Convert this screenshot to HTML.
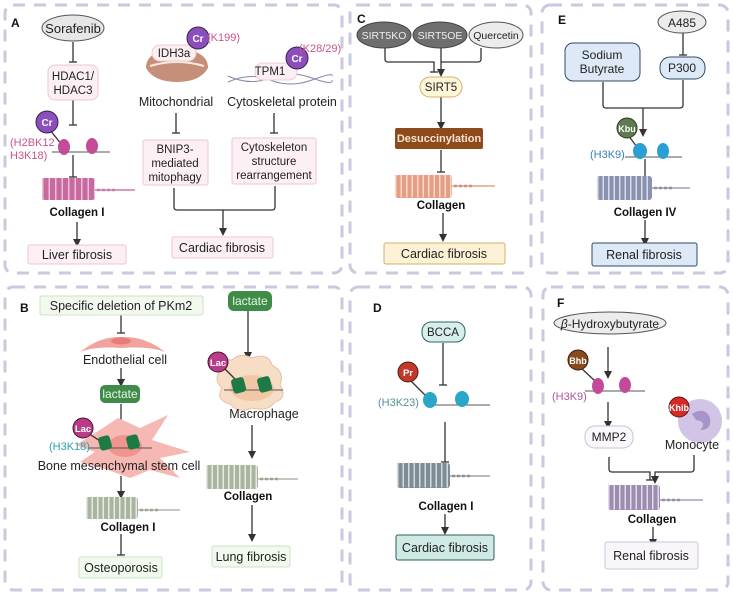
<!DOCTYPE html>
<html><head><meta charset="utf-8"><style>
body{margin:0;background:#fff;}
svg{display:block;font-family:"Liberation Sans",Arial,sans-serif;}
</style></head><body>
<svg width="733" height="594" viewBox="0 0 733 594" xmlns="http://www.w3.org/2000/svg">
<defs>
<marker id="ar" markerWidth="8" markerHeight="8" refX="4" refY="4" orient="auto" markerUnits="userSpaceOnUse"><path d="M0,0 L8,4 L0,8 z" fill="#333"/></marker>
</defs>
<g fill="none" stroke="#c9c9df" stroke-width="3" stroke-dasharray="12 9">
<rect x="5" y="5" width="337" height="268" rx="8"/>
<rect x="5" y="287" width="337" height="303" rx="8"/>
<rect x="350" y="5" width="181" height="268" rx="8"/>
<rect x="542" y="5" width="186" height="268" rx="8"/>
<rect x="350" y="287" width="181" height="303" rx="8"/>
<rect x="543" y="287" width="185" height="303" rx="8"/>
</g>
<g font-weight="bold" font-size="12" fill="#111">
<text x="11" y="27">A</text><text x="20" y="312">B</text><text x="357" y="23">C</text>
<text x="558" y="24">E</text><text x="373" y="312">D</text><text x="557" y="307">F</text>
</g>
<g stroke="#333" stroke-width="1.3" fill="none">
<line x1="73" y1="42" x2="73" y2="62"/><line x1="69" y1="62" x2="77" y2="62"/>
<line x1="73" y1="100" x2="73" y2="125"/><line x1="69" y1="125" x2="77" y2="125"/>
<line x1="73" y1="155" x2="73" y2="177"/><line x1="69" y1="177" x2="77" y2="177"/>
<line x1="77" y1="222" x2="77" y2="243" marker-end="url(#ar)"/>
<line x1="176" y1="113" x2="176" y2="133"/><line x1="172" y1="133" x2="180" y2="133"/>
<line x1="274" y1="113" x2="274" y2="133"/><line x1="270" y1="133" x2="278" y2="133"/>
<path d="M174,188 V207 Q174,210 177,210 H272 Q275,210 275,207 V186"/>
<line x1="223" y1="210" x2="223" y2="232" marker-end="url(#ar)"/>
<line x1="121" y1="314" x2="121" y2="333"/><line x1="117" y1="333" x2="125" y2="333"/>
<line x1="121" y1="368" x2="121" y2="383" marker-end="url(#ar)"/>
<line x1="121" y1="404" x2="121" y2="428" marker-end="url(#ar)"/>
<line x1="121" y1="476" x2="121" y2="495" marker-end="url(#ar)"/>
<line x1="121" y1="534" x2="121" y2="555"/><line x1="117" y1="555" x2="125" y2="555"/>
<line x1="248" y1="311" x2="248" y2="356" marker-end="url(#ar)"/>
<line x1="252" y1="425" x2="252" y2="455" marker-end="url(#ar)"/>
<line x1="252" y1="505" x2="252" y2="538" marker-end="url(#ar)"/>
<path d="M385,48 V59 Q385,62 388,62 H434 V72"/><line x1="430" y1="72" x2="438" y2="72"/>
<line x1="441" y1="48" x2="441" y2="73" marker-end="url(#ar)"/>
<path d="M481,48 V59 Q481,62 478,62 H441"/>
<line x1="441" y1="97" x2="441" y2="126" marker-end="url(#ar)"/>
<line x1="441" y1="150" x2="441" y2="172"/><line x1="437" y1="172" x2="445" y2="172"/>
<line x1="443" y1="213" x2="443" y2="238" marker-end="url(#ar)"/>
<line x1="683" y1="33" x2="683" y2="55"/><line x1="679" y1="55" x2="687" y2="55"/>
<path d="M603,82 V105 Q603,108 606,108 H680 Q683,108 683,105 V80"/>
<line x1="643" y1="108" x2="643" y2="133" marker-end="url(#ar)"/>
<line x1="645" y1="159" x2="645" y2="178"/><line x1="641" y1="178" x2="649" y2="178"/>
<line x1="645" y1="220" x2="645" y2="242" marker-end="url(#ar)"/>
<line x1="443" y1="343" x2="443" y2="385"/><line x1="439" y1="385" x2="447" y2="385"/>
<line x1="445" y1="422" x2="445" y2="462"/><line x1="441" y1="462" x2="449" y2="462"/>
<line x1="445" y1="514" x2="445" y2="531" marker-end="url(#ar)"/>
<line x1="608" y1="347" x2="608" y2="375" marker-end="url(#ar)"/>
<line x1="608" y1="402" x2="608" y2="425" marker-end="url(#ar)"/>
<path d="M609,457 V469 Q609,472 612,472 H650 V480"/><line x1="646" y1="480" x2="654" y2="480"/>
<path d="M694,455 V469 Q694,472 691,472 H655 V480" marker-end="url(#ar)"/>
<line x1="653" y1="527" x2="653" y2="543" marker-end="url(#ar)"/>
</g>

<ellipse cx="73" cy="28" rx="31" ry="13" fill="#e6e6e6" stroke="#555"/>
<text x="73" y="33" font-size="13" text-anchor="middle" fill="#222">Sorafenib</text>
<rect x="48" y="65" width="50" height="35" rx="7" fill="#fdf0f5" stroke="#f0c4d4"/>
<text x="73" y="80" font-size="11.5" text-anchor="middle" fill="#222">HDAC1/</text>
<text x="73" y="94" font-size="11.5" text-anchor="middle" fill="#222">HDAC3</text>
<line x1="50" y1="130" x2="62" y2="145" stroke="#333" stroke-width="1.3"/>
<circle cx="47" cy="122" r="11" fill="#8b4fbd" stroke="#3a2050"/>
<text x="47" y="126" font-size="10" text-anchor="middle" fill="#fff" font-weight="bold">Cr</text>
<line x1="52" y1="152" x2="110" y2="152" stroke="#555"/>
<ellipse cx="64" cy="147" rx="6" ry="8" fill="#c44b95"/><ellipse cx="92" cy="146" rx="6" ry="8" fill="#c44b95"/>
<text x="10" y="146" font-size="11" fill="#c8558c">(H2BK12</text>
<text x="10" y="159" font-size="11" fill="#c8558c">H3K18)</text>
<rect x="42" y="178" width="53" height="22" rx="3" fill="#c66aa0"/>
<line x1="42" y1="189" x2="95" y2="189" stroke="#f0c0da" stroke-width="22" stroke-dasharray="1.5 5"/>
<line x1="95" y1="190" x2="135" y2="190" stroke="#d07aa8" stroke-width="1.5"/>
<line x1="97" y1="190" x2="115" y2="190" stroke="#c080a8" stroke-width="2.5" stroke-dasharray="3 2"/>
<text x="77" y="216" font-size="11.5" font-weight="bold" text-anchor="middle" fill="#111">Collagen I</text>
<rect x="28" y="245" width="98" height="19" rx="2" fill="#fdf0f5" stroke="#f0c4d4"/>
<text x="77" y="259" font-size="12.5" text-anchor="middle" fill="#222">Liver fibrosis</text>

<path d="M146,68 Q146,50 177,49 Q208,50 208,68 Q200,82 177,82 Q154,82 146,68z" fill="#c58f7a"/>
<path d="M150,66 Q177,58 204,66" stroke="#fbe6dc" stroke-width="2" fill="none"/>
<rect x="152" y="45" width="44" height="16" rx="8" fill="#fbeff3" stroke="#ecc"/>
<text x="174" y="57" font-size="11.5" text-anchor="middle" fill="#222">IDH3a</text>
<circle cx="198" cy="38" r="11" fill="#8b4fbd" stroke="#3a2050"/>
<text x="198" y="42" font-size="10" text-anchor="middle" fill="#fff" font-weight="bold">Cr</text>
<text x="207" y="41" font-size="11" fill="#c8558c">(K199)</text>
<text x="176" y="106" font-size="12.5" text-anchor="middle" fill="#222">Mitochondrial</text>
<rect x="143" y="140" width="65" height="45" rx="2" fill="#fdf0f5" stroke="#f0c4d4"/>
<text x="175" y="153" font-size="11.5" text-anchor="middle" fill="#222">BNIP3-</text>
<text x="175" y="167" font-size="11.5" text-anchor="middle" fill="#222">mediated</text>
<text x="175" y="181" font-size="11.5" text-anchor="middle" fill="#222">mitophagy</text>

<path d="M228,76 Q250,86 270,78 T312,78 T332,80 M228,82 Q250,72 270,80 T312,80 T332,76" stroke="#8888aa" fill="none"/>
<rect x="255" y="63" width="42" height="17" rx="8" fill="#fbeff3" stroke="#ecc"/>
<text x="270" y="75" font-size="11.5" text-anchor="middle" fill="#222">TPM1</text>
<circle cx="297" cy="58" r="11" fill="#8b4fbd" stroke="#3a2050"/>
<text x="297" y="62" font-size="10" text-anchor="middle" fill="#fff" font-weight="bold">Cr</text>
<text x="299" y="52" font-size="11" fill="#c8558c">(K28/29)</text>
<text x="282" y="106" font-size="12.5" text-anchor="middle" fill="#222">Cytoskeletal protein</text>
<rect x="232" y="138" width="84" height="46" rx="2" fill="#fdf0f5" stroke="#f0c4d4"/>
<text x="274" y="151" font-size="11.5" text-anchor="middle" fill="#222">Cytoskeleton</text>
<text x="274" y="165" font-size="11.5" text-anchor="middle" fill="#222">structure</text>
<text x="274" y="179" font-size="11.5" text-anchor="middle" fill="#222">rearrangement</text>
<rect x="172" y="237" width="101" height="21" rx="2" fill="#fdf0f5" stroke="#f0c4d4"/>
<text x="222" y="252" font-size="12.5" text-anchor="middle" fill="#222">Cardiac fibrosis</text>

<rect x="40" y="296" width="163" height="19" rx="2" fill="#f2f9ee" stroke="#cfe3c4"/>
<text x="121" y="310" font-size="12.5" text-anchor="middle" fill="#222">Specific deletion of PKm2</text>
<path d="M80,352 Q100,336 121,337 Q145,336 165,352 Q150,346 121,348 Q95,346 80,352z" fill="#f3a39e"/>
<ellipse cx="121" cy="341" rx="10" ry="3.5" fill="#e57d79"/>
<text x="125" y="364" font-size="12.5" text-anchor="middle" fill="#222">Endothelial cell</text>
<rect x="100" y="385" width="40" height="18" rx="5" fill="#3f8c48"/>
<text x="120" y="398" font-size="12" text-anchor="middle" fill="#e9f6e9">lactate</text>
<path d="M76,445 L100,430 L118,418 L140,428 L168,415 L152,440 L190,452 L160,458 L180,478 L150,470 L130,478 L108,470 L80,462 L95,452z" fill="#f6b8b2"/>
<ellipse cx="125" cy="446" rx="17" ry="11" fill="#f0958e"/>
<line x1="88" y1="448" x2="152" y2="448" stroke="#555"/>
<line x1="88" y1="433" x2="103" y2="443" stroke="#333" stroke-width="1.3"/>
<rect x="99" y="436" width="12" height="14" rx="3" fill="#1e7a44" transform="rotate(-15 105 443)"/>
<rect x="127" y="435" width="12" height="14" rx="3" fill="#1e7a44" transform="rotate(-15 133 442)"/>
<circle cx="83" cy="428" r="10" fill="#b83c87" stroke="#4a1030"/>
<text x="83" y="432" font-size="9.5" text-anchor="middle" fill="#fff" font-weight="bold">Lac</text>
<text x="49" y="450" font-size="11" fill="#2aa0b0">(H3K18)</text>
<text x="119" y="470" font-size="12.5" text-anchor="middle" fill="#222">Bone mesenchymal stem cell</text>
<rect x="86" y="497" width="52" height="22" rx="3" fill="#a9b4a1"/>
<line x1="86" y1="508" x2="138" y2="508" stroke="#e6ece2" stroke-width="22" stroke-dasharray="1.5 4"/>
<line x1="138" y1="510" x2="180" y2="510" stroke="#b0b8aa" stroke-width="1.5"/>
<line x1="140" y1="510" x2="158" y2="510" stroke="#9ba496" stroke-width="2.5" stroke-dasharray="3 2"/>
<text x="128" y="531" font-size="11.5" font-weight="bold" text-anchor="middle" fill="#111">Collagen I</text>
<rect x="79" y="557" width="83" height="21" rx="2" fill="#f2f9ee" stroke="#cfe3c4"/>
<text x="121" y="572" font-size="12.5" text-anchor="middle" fill="#222">Osteoporosis</text>

<rect x="228" y="291" width="44" height="20" rx="6" fill="#3f8c48"/>
<text x="250" y="305" font-size="12" text-anchor="middle" fill="#e9f6e9">lactate</text>
<path d="M222,370 Q218,358 232,360 Q240,352 252,358 Q268,352 272,365 Q285,372 280,385 Q288,398 275,402 Q268,412 252,408 Q238,414 230,404 Q215,400 222,388 Q212,378 222,370z" fill="#f7dcc6" stroke="#e8c0a6"/>
<ellipse cx="252" cy="388" rx="22" ry="13" fill="#f2c7a6"/>
<line x1="224" y1="390" x2="283" y2="390" stroke="#555"/>
<line x1="224" y1="368" x2="236" y2="380" stroke="#333" stroke-width="1.3"/>
<rect x="232" y="378" width="13" height="15" rx="3" fill="#1e7a44" transform="rotate(-15 238 385)"/>
<rect x="258" y="377" width="13" height="15" rx="3" fill="#1e7a44" transform="rotate(-15 264 384)"/>
<circle cx="218" cy="362" r="10" fill="#b83c87" stroke="#4a1030"/>
<text x="218" y="366" font-size="9.5" text-anchor="middle" fill="#fff" font-weight="bold">Lac</text>
<text x="264" y="418" font-size="12.5" text-anchor="middle" fill="#222">Macrophage</text>
<rect x="206" y="465" width="52" height="24" rx="3" fill="#a9b4a1"/>
<line x1="206" y1="477" x2="258" y2="477" stroke="#e6ece2" stroke-width="24" stroke-dasharray="1.5 4"/>
<line x1="258" y1="479" x2="298" y2="479" stroke="#b0b8aa" stroke-width="1.5"/>
<line x1="260" y1="479" x2="278" y2="479" stroke="#9ba496" stroke-width="2.5" stroke-dasharray="3 2"/>
<text x="248" y="500" font-size="11.5" font-weight="bold" text-anchor="middle" fill="#111">Collagen</text>
<rect x="212" y="546" width="78" height="21" rx="2" fill="#f2f9ee" stroke="#cfe3c4"/>
<text x="251" y="561" font-size="12.5" text-anchor="middle" fill="#222">Lung fibrosis</text>

<ellipse cx="384" cy="35" rx="27" ry="13" fill="#6e6e6e" stroke="#444"/>
<text x="384" y="39" font-size="10.5" text-anchor="middle" fill="#eee">SIRT5KO</text>
<ellipse cx="440" cy="35" rx="27" ry="13" fill="#6e6e6e" stroke="#444"/>
<text x="440" y="39" font-size="10.5" text-anchor="middle" fill="#eee">SIRT5OE</text>
<ellipse cx="496" cy="35" rx="27" ry="13" fill="#ececec" stroke="#555"/>
<text x="496" y="39" font-size="10.5" text-anchor="middle" fill="#222">Quercetin</text>
<rect x="420" y="77" width="42" height="20" rx="10" fill="#fff5d8" stroke="#d4b06a"/>
<text x="441" y="91" font-size="11.5" text-anchor="middle" fill="#222">SIRT5</text>
<rect x="395" y="128" width="88" height="21" rx="2" fill="#8f4a1c"/>
<text x="439" y="142" font-size="11" font-weight="bold" text-anchor="middle" fill="#f6e4d6">Desuccinylation</text>
<rect x="395" y="175" width="57" height="23" rx="3" fill="#e59e86"/>
<line x1="395" y1="186" x2="452" y2="186" stroke="#fad7c8" stroke-width="23" stroke-dasharray="1.5 4"/>
<line x1="452" y1="186" x2="495" y2="186" stroke="#e8a08a" stroke-width="1.5"/>
<line x1="454" y1="186" x2="472" y2="186" stroke="#d98a78" stroke-width="2.5" stroke-dasharray="3 2"/>
<text x="441" y="209" font-size="11.5" font-weight="bold" text-anchor="middle" fill="#111">Collagen</text>
<rect x="384" y="243" width="121" height="21" rx="2" fill="#fdf2d6" stroke="#d4b06a"/>
<text x="444" y="258" font-size="12.5" text-anchor="middle" fill="#222">Cardiac fibrosis</text>

<ellipse cx="682" cy="22" rx="24" ry="11" fill="#ececec" stroke="#555"/>
<text x="682" y="27" font-size="12" text-anchor="middle" fill="#222">A485</text>
<rect x="565" y="43" width="75" height="38" rx="8" fill="#dde9f6" stroke="#2c4a6a"/>
<text x="602" y="59" font-size="12" text-anchor="middle" fill="#222">Sodium</text>
<text x="602" y="73" font-size="12" text-anchor="middle" fill="#222">Butyrate</text>
<rect x="660" y="57" width="45" height="22" rx="10" fill="#dde9f6" stroke="#2c4a6a"/>
<text x="682" y="72" font-size="12" text-anchor="middle" fill="#222">P300</text>
<line x1="628" y1="135" x2="637" y2="147" stroke="#333" stroke-width="1.3"/>
<circle cx="627" cy="128" r="10" fill="#5d7a50" stroke="#2a3a24"/>
<text x="627" y="132" font-size="9" text-anchor="middle" fill="#fff" font-weight="bold">Kbu</text>
<line x1="625" y1="157" x2="682" y2="157" stroke="#555"/>
<ellipse cx="640" cy="151" rx="7" ry="8" fill="#2a9fd6"/><ellipse cx="663" cy="151" rx="6" ry="8" fill="#2a9fd6"/>
<text x="590" y="158" font-size="11" fill="#3a7fb8">(H3K9)</text>
<rect x="597" y="176" width="55" height="24" rx="3" fill="#8a92ad"/>
<line x1="597" y1="188" x2="652" y2="188" stroke="#d8dced" stroke-width="24" stroke-dasharray="1.5 4"/>
<line x1="652" y1="188" x2="690" y2="188" stroke="#9aa0b8" stroke-width="1.5"/>
<line x1="654" y1="188" x2="672" y2="188" stroke="#8a90a8" stroke-width="2.5" stroke-dasharray="3 2"/>
<text x="645" y="216" font-size="11.5" font-weight="bold" text-anchor="middle" fill="#111">Collagen IV</text>
<rect x="592" y="243" width="105" height="23" rx="2" fill="#dde9f6" stroke="#2c4a6a"/>
<text x="644" y="259" font-size="12.5" text-anchor="middle" fill="#222">Renal fibrosis</text>

<rect x="422" y="322" width="43" height="20" rx="9" fill="#d7eeeb" stroke="#2e6464"/>
<text x="443" y="336" font-size="11.5" text-anchor="middle" fill="#222">BCCA</text>
<line x1="411" y1="381" x2="427" y2="397" stroke="#333" stroke-width="1.3"/>
<circle cx="408" cy="372" r="10" fill="#c0392b" stroke="#5a1a12"/>
<text x="408" y="376" font-size="9.5" text-anchor="middle" fill="#fff" font-weight="bold">Pr</text>
<line x1="428" y1="405" x2="490" y2="405" stroke="#555"/>
<ellipse cx="430" cy="400" rx="7" ry="8" fill="#2aa7c8"/><ellipse cx="462" cy="399" rx="7" ry="8" fill="#2aa7c8"/>
<text x="378" y="406" font-size="11" fill="#5a8f9a">(H3K23)</text>
<rect x="397" y="463" width="53" height="25" rx="3" fill="#7e8c96"/>
<line x1="397" y1="475" x2="450" y2="475" stroke="#d4dbe0" stroke-width="25" stroke-dasharray="1.5 4"/>
<line x1="450" y1="476" x2="490" y2="476" stroke="#9aa4ac" stroke-width="1.5"/>
<line x1="452" y1="476" x2="470" y2="476" stroke="#88929a" stroke-width="2.5" stroke-dasharray="3 2"/>
<text x="446" y="510" font-size="11.5" font-weight="bold" text-anchor="middle" fill="#111">Collagen I</text>
<rect x="396" y="535" width="98" height="25" rx="2" fill="#cfe9e5" stroke="#2d5f5f"/>
<text x="445" y="552" font-size="12.5" text-anchor="middle" fill="#222">Cardiac fibrosis</text>

<ellipse cx="610" cy="323" rx="56" ry="11" fill="#ececec" stroke="#555"/>
<text x="610" y="328" font-size="12" text-anchor="middle" fill="#222"><tspan font-style="italic">β</tspan>-Hydroxybutyrate</text>
<line x1="580" y1="367" x2="595" y2="381" stroke="#333" stroke-width="1.3"/>
<circle cx="578" cy="360" r="10" fill="#8a4a1c" stroke="#3a1a08"/>
<text x="578" y="364" font-size="9" text-anchor="middle" fill="#fff" font-weight="bold">Bhb</text>
<line x1="585" y1="391" x2="645" y2="391" stroke="#555"/>
<ellipse cx="598" cy="386" rx="6" ry="8" fill="#c24a99"/><ellipse cx="625" cy="385" rx="6" ry="8" fill="#c24a99"/>
<text x="552" y="400" font-size="11" fill="#b0559a">(H3K9)</text>
<rect x="585" y="426" width="48" height="22" rx="10" fill="#fbf8fd" stroke="#c9bfd9"/>
<text x="609" y="441" font-size="12" text-anchor="middle" fill="#222">MMP2</text>
<circle cx="700" cy="421" r="22" fill="#d2c4e6"/>
<path d="M692,414 Q705,406 710,418 Q712,430 700,430 Q708,422 696,420z" fill="#a894c8"/>
<circle cx="679" cy="407" r="10" fill="#d52a26" stroke="#6a1010"/>
<text x="679" y="411" font-size="9" text-anchor="middle" fill="#fff" font-weight="bold">Khib</text>
<text x="692" y="449" font-size="12.5" text-anchor="middle" fill="#222">Monocyte</text>
<rect x="608" y="485" width="52" height="25" rx="3" fill="#9c8db0"/>
<line x1="608" y1="497" x2="660" y2="497" stroke="#e2dbec" stroke-width="25" stroke-dasharray="1.5 4"/>
<line x1="660" y1="500" x2="703" y2="500" stroke="#a89cba" stroke-width="1.5"/>
<line x1="662" y1="500" x2="680" y2="500" stroke="#9a8cae" stroke-width="2.5" stroke-dasharray="3 2"/>
<text x="652" y="523" font-size="11.5" font-weight="bold" text-anchor="middle" fill="#111">Collagen</text>
<rect x="605" y="542" width="93" height="27" rx="2" fill="#f8f5fb" stroke="#cdc6dc"/>
<text x="651" y="560" font-size="12.5" text-anchor="middle" fill="#222">Renal fibrosis</text>
</svg>
</body></html>
